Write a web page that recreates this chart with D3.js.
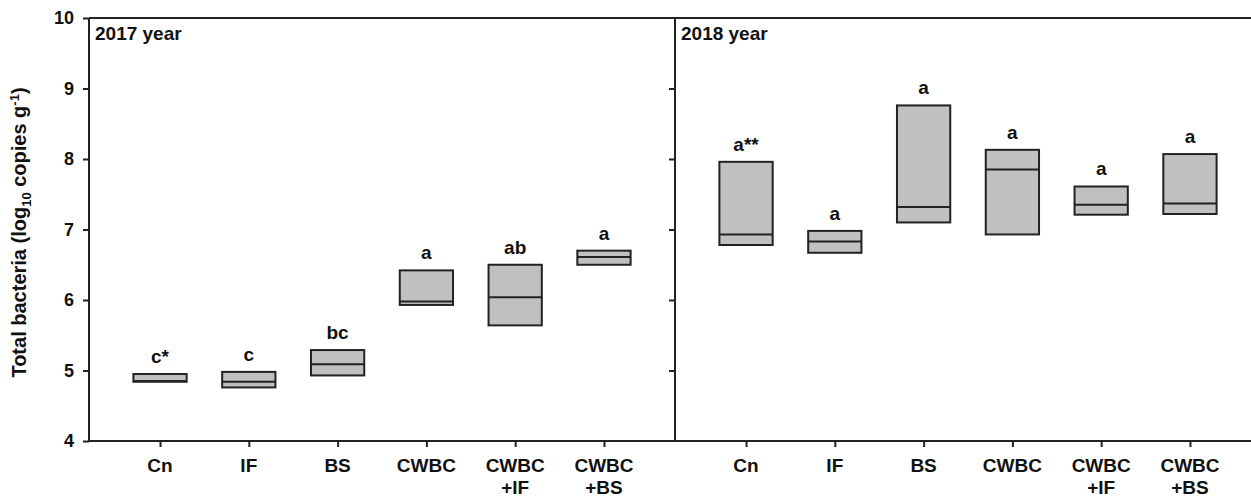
<!DOCTYPE html>
<html>
<head>
<meta charset="utf-8">
<script src="https://cdn.jsdelivr.net/npm/d3@7"></script>
<style>
  body { margin: 0; background: #fff; }
  text { font-family: Arial, "Liberation Sans", sans-serif; font-weight: bold; fill: #111; }
</style>
</head>
<body>
<script>
// categories and box values (top / median / bottom)
var categories = ["Cn", "IF", "BS", "CWBC", "CWBC\n+IF", "CWBC\n+BS"];
var years = ["2017 year", "2018 year"];

var top2017 = [4.95, 4.98, 5.29, 6.42, 6.50, 6.70];
var med2017 = [4.85, 4.84, 5.09, 5.98, 6.04, 6.61];
var bot2017 = [4.84, 4.76, 4.93, 5.93, 5.64, 6.50];
var let2017 = ["c*", "c", "bc", "a", "ab", "a"];

var top2018 = [7.96, 6.98, 8.76, 8.13, 7.61, 8.07];
var med2018 = [6.93, 6.83, 7.32, 7.85, 7.35, 7.37];
var bot2018 = [6.78, 6.67, 7.10, 6.93, 7.21, 7.22];
var let2018 = ["a**", "a", "a", "a", "a", "a"];

var yTicks = [4, 5, 6, 7, 8, 9, 10];

var panels = [
  {title: years[0], top: top2017, med: med2017, bot: bot2017, letters: let2017},
  {title: years[1], top: top2018, med: med2018, bot: bot2018, letters: let2018}
];

var W = 1251, H = 498;
var margin = {top: 18, left: 89, bottom: 57};
var panelW = 586,
    height = H - margin.top - margin.bottom;

var svg = d3.select("body").append("svg")
    .attr("width", W)
    .attr("height", H);

var yScale = d3.scaleLinear().domain([4, 10]).range([height, 0]);
var xScale = d3.scaleLinear().domain([0.2, 6.8]).range([0, panelW]);
var boxW = xScale(1.3) - xScale(0.7);
var stroke = "#222";

panels.forEach(function(p, pi) {
  var g = svg.append("g")
      .attr("transform", "translate(" + (margin.left + pi * panelW) + "," + margin.top + ")");

  // y axis (left side of each panel)
  var yAxis = d3.axisLeft(yScale).tickValues(yTicks).tickSize(6).tickPadding(9)
      .tickFormat(pi === 0 ? d3.format("d") : "");
  var ya = g.append("g").call(yAxis);
  ya.select(".domain").remove();
  ya.selectAll("line").attr("stroke", stroke).attr("stroke-width", 2);
  ya.selectAll("text").style("font-size", "18px");
  if (pi === 1) ya.selectAll(".tick").filter(function(d) { return d === 4 || d === 10; }).remove();

  // frame
  g.append("line").attr("x1", 0).attr("x2", 0).attr("y1", 0).attr("y2", height)
      .attr("stroke", stroke).attr("stroke-width", 2);
  g.append("line").attr("x1", 0).attr("x2", panelW).attr("y1", 0).attr("y2", 0)
      .attr("stroke", stroke).attr("stroke-width", 2);

  // x axis
  var xAxis = d3.axisBottom(xScale).tickValues(d3.range(1, 7)).tickSize(6).tickFormat("");
  var xa = g.append("g").attr("transform", "translate(0," + height + ")").call(xAxis);
  xa.select(".domain").attr("d", "M0,0H" + panelW).attr("stroke", stroke).attr("stroke-width", 2);
  xa.selectAll("line").attr("stroke", stroke).attr("stroke-width", 2);

  categories.forEach(function(c, i) {
    var t = g.append("text")
        .attr("x", xScale(i + 1))
        .attr("y", height + 31)
        .attr("text-anchor", "middle")
        .style("font-size", "19px");
    c.split("\n").forEach(function(line, li) {
      t.append("tspan").attr("x", xScale(i + 1)).attr("dy", li === 0 ? 0 : 22).text(line);
    });
  });

  // boxes
  var data = categories.map(function(c, i) {
    return {i: i + 1, top: p.top[i], med: p.med[i], bot: p.bot[i], letter: p.letters[i]};
  });

  g.selectAll(".box").data(data).enter().append("rect")
      .attr("class", "box")
      .attr("x", function(d) { return xScale(d.i) - boxW / 2; })
      .attr("y", function(d) { return yScale(d.top); })
      .attr("width", boxW)
      .attr("height", function(d) { return yScale(d.bot) - yScale(d.top); })
      .attr("fill", "#c0c0c0")
      .attr("stroke", stroke)
      .attr("stroke-width", 2);

  g.selectAll(".med").data(data).enter().append("line")
      .attr("class", "med")
      .attr("x1", function(d) { return xScale(d.i) - boxW / 2; })
      .attr("x2", function(d) { return xScale(d.i) + boxW / 2; })
      .attr("y1", function(d) { return yScale(d.med); })
      .attr("y2", function(d) { return yScale(d.med); })
      .attr("stroke", stroke)
      .attr("stroke-width", 2);

  g.selectAll(".letter").data(data).enter().append("text")
      .attr("class", "letter")
      .attr("x", function(d) { return xScale(d.i); })
      .attr("y", function(d) { return yScale(d.top) - 11; })
      .attr("text-anchor", "middle")
      .style("font-size", "19px")
      .text(function(d) { return d.letter; });

  g.append("text")
      .attr("x", 6)
      .attr("y", 22)
      .style("font-size", "19px")
      .text(p.title);
});

// y title
var yt = svg.append("text")
    .attr("transform", "translate(26," + (margin.top + height / 2 + 3) + ") rotate(-90)")
    .attr("text-anchor", "middle")
    .style("font-size", "20px");
yt.append("tspan").text("Total bacteria (log");
yt.append("tspan").attr("dy", 5).style("font-size", "13px").text("10");
yt.append("tspan").attr("dy", -5).text(" copies g");
yt.append("tspan").attr("dy", -7).style("font-size", "13px").text("-1");
yt.append("tspan").attr("dy", 7).text(")");
</script>
</body>
</html>
